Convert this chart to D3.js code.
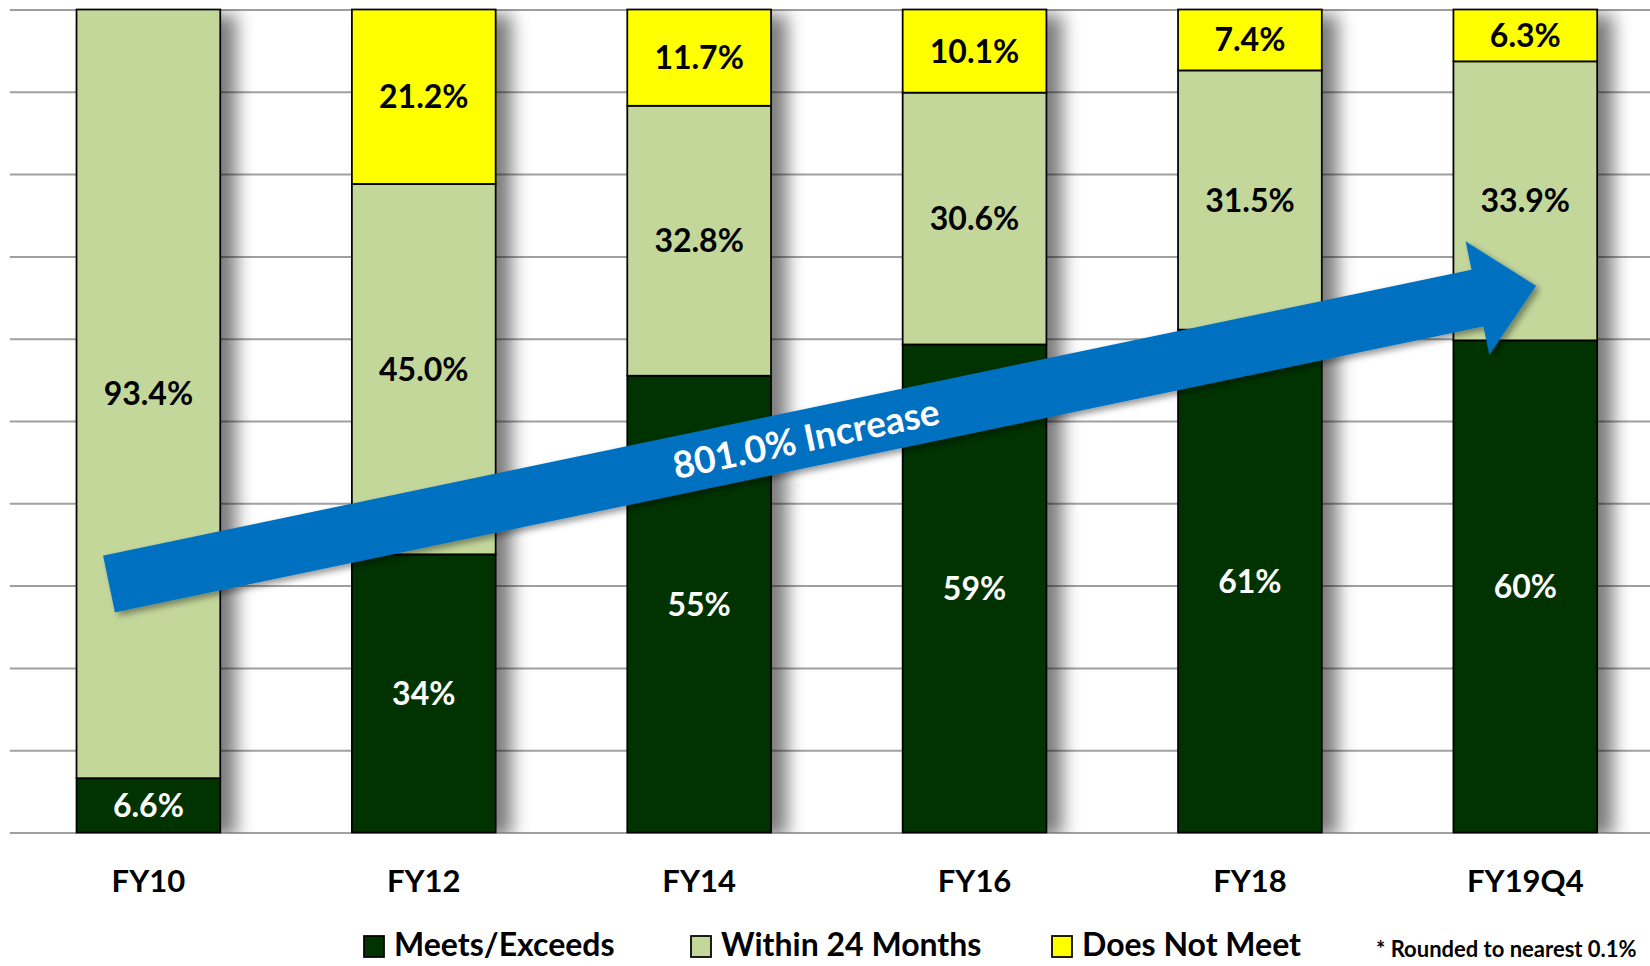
<!DOCTYPE html>
<html>
<head>
<meta charset="utf-8">
<script src="https://cdn.jsdelivr.net/npm/d3@7"></script>
<style>
  html, body { margin: 0; padding: 0; background: #fff; overflow: hidden; }
  svg { display: block; font-family: Lato, "Open Sans", sans-serif; }
</style>
</head>
<body>
<svg id="chart" width="1650" height="966"></svg>
<script>
// data
const categories = ["FY10", "FY12", "FY14", "FY16", "FY18", "FY19Q4"];
const meetsExceeds = [6.6, 33.8, 55.5, 59.3, 61.1, 59.8];
const within24Months = [93.4, 45.0, 32.8, 30.6, 31.5, 33.9];
const doesNotMeet = [0, 21.2, 11.7, 10.1, 7.4, 6.3];
const meetsLabels = ["6.6%", "34%", "55%", "59%", "61%", "60%"];
const withinLabels = ["93.4%", "45.0%", "32.8%", "30.6%", "31.5%", "33.9%"];
const notMeetLabels = ["", "21.2%", "11.7%", "10.1%", "7.4%", "6.3%"];
const seriesNames = ["Meets/Exceeds", "Within 24 Months", "Does Not Meet"];
const seriesColors = ["#003300", "#c4d79b", "#ffff00"];
const labelColors = ["#ffffff", "#000000", "#000000"];
const yTicks = d3.range(0, 101, 10);
const arrowLabel = "801.0% Increase";
const footnote = "* Rounded to nearest  0.1%";

var svg = d3.select("#chart");
var W = +svg.attr("width"), H = +svg.attr("height");

var table = categories.map(function (c, i) {
  return {
    cat: c,
    "Meets/Exceeds": meetsExceeds[i],
    "Within 24 Months": within24Months[i],
    "Does Not Meet": doesNotMeet[i],
    labels: [meetsLabels[i], withinLabels[i], notMeetLabels[i]]
  };
});

var x = d3.scaleBand()
  .domain(categories)
  .range([10.7, 1663])
  .paddingInner(0.478)
  .paddingOuter(0.239);

var y = d3.scaleLinear().domain([0, 100]).range([832.5, 9.5]);

var defs = svg.append("defs");

// soft shadow to the right of each bar
var f = defs.append("filter").attr("id", "barShadow")
  .attr("x", "-40%").attr("y", "-10%").attr("width", "220%").attr("height", "125%");
f.append("feGaussianBlur").attr("in", "SourceAlpha").attr("stdDeviation", 9);
f.append("feOffset").attr("dx", 16).attr("dy", 5);
f.append("feComponentTransfer").append("feFuncA").attr("type", "linear").attr("slope", 0.52);

var fa = defs.append("filter").attr("id", "arrowShadow")
  .attr("x", "-5%").attr("y", "-20%").attr("width", "110%").attr("height", "150%");
fa.append("feDropShadow").attr("dx", 3).attr("dy", 4).attr("stdDeviation", 3)
  .attr("flood-color", "#000").attr("flood-opacity", 0.4);

defs.append("clipPath").attr("id", "plotClip")
  .append("rect").attr("x", 0).attr("y", y(100)).attr("width", W).attr("height", y(0) - y(100));

// gridlines
var grid = svg.append("g")
  .attr("transform", "translate(9.8,0)")
  .call(d3.axisLeft(y).tickValues(yTicks).tickSize(-(W - 9.8)).tickFormat(""));
grid.select(".domain").remove();
grid.selectAll("line").attr("stroke", "#a0a0a0").attr("stroke-width", 2);

// shadows
svg.append("g").attr("clip-path", "url(#plotClip)")
  .selectAll("rect")
  .data(table)
  .enter().append("rect")
  .attr("x", d => x(d.cat))
  .attr("width", x.bandwidth())
  .attr("y", d => y(d["Meets/Exceeds"] + d["Within 24 Months"] + d["Does Not Meet"]))
  .attr("height", d => y(0) - y(d["Meets/Exceeds"] + d["Within 24 Months"] + d["Does Not Meet"]))
  .attr("fill", "#000")
  .attr("filter", "url(#barShadow)");

// stacked bars
var stack = d3.stack().keys(seriesNames);
var series = stack(table);

var layer = svg.append("g").selectAll("g")
  .data(series)
  .enter().append("g")
  .attr("fill", (d, i) => seriesColors[i]);

layer.selectAll("rect")
  .data(d => d.filter(p => p[1] - p[0] > 0))
  .enter().append("rect")
  .attr("x", d => x(d.data.cat))
  .attr("width", x.bandwidth())
  .attr("y", d => y(d[1]))
  .attr("height", d => y(d[0]) - y(d[1]))
  .attr("stroke", "#000")
  .attr("stroke-width", 1.75);

// segment labels
series.forEach(function (s, si) {
  svg.append("g").selectAll("text")
    .data(s.filter(p => p[1] - p[0] > 0))
    .enter().append("text")
    .attr("x", d => x(d.data.cat) + x.bandwidth() / 2)
    .attr("y", d => y((d[0] + d[1]) / 2))
    .attr("dy", "0.36em")
    .attr("text-anchor", "middle")
    .attr("fill", labelColors[si])
    .attr("font-size", 32)
    .attr("font-weight", "bold")
    .text(d => d.data.labels[si]);
});

// category axis
var xAxis = svg.append("g")
  .attr("transform", "translate(0," + y(0) + ")")
  .call(d3.axisBottom(x).tickSize(0));
xAxis.select(".domain").remove();
xAxis.selectAll("text")
  .attr("y", 59).attr("dy", 0)
  .attr("fill", "#000")
  .attr("font-family", "Lato, 'Open Sans', sans-serif")
  .attr("font-size", 31)
  .attr("font-weight", "bold");

// trend arrow
var tail = [109, 584], angle = -11.8, shaftLen = 1398, headLen = 60, halfShaft = 29, halfHead = 58;
var arrow = svg.append("g")
  .attr("transform", "translate(" + tail[0] + "," + tail[1] + ") rotate(" + angle + ")");
arrow.append("path")
  .attr("d", d3.line()([
    [0, -halfShaft], [shaftLen, -halfShaft], [shaftLen, -halfHead],
    [shaftLen + headLen, 0], [shaftLen, halfHead], [shaftLen, halfShaft], [0, halfShaft]
  ]) + "Z")
  .attr("fill", "#0070c0")
  .attr("filter", "url(#arrowShadow)");
arrow.append("text")
  .attr("x", 712).attr("y", 0).attr("dy", "0.36em")
  .attr("text-anchor", "middle")
  .attr("fill", "#fff")
  .attr("font-size", 37)
  .attr("font-weight", "bold")
  .text(arrowLabel);

// legend
var legendX = [364, 691, 1052];
var legend = svg.append("g").selectAll("g")
  .data(seriesNames)
  .enter().append("g")
  .attr("transform", (d, i) => "translate(" + legendX[i] + ",0)");
legend.append("rect")
  .attr("x", 0).attr("y", 936).attr("width", 20).attr("height", 21)
  .attr("fill", (d, i) => seriesColors[i])
  .attr("stroke", "#000").attr("stroke-width", 1.75);
legend.append("text")
  .attr("x", 30).attr("y", 956)
  .attr("font-size", 32)
  .attr("font-weight", "bold")
  .attr("fill", "#000")
  .text(d => d);

svg.append("text")
  .attr("x", 1376).attr("y", 957)
  .attr("font-size", 22)
  .attr("font-weight", "bold")
  .attr("fill", "#000")
  .text(footnote);
</script>
</body>
</html>
